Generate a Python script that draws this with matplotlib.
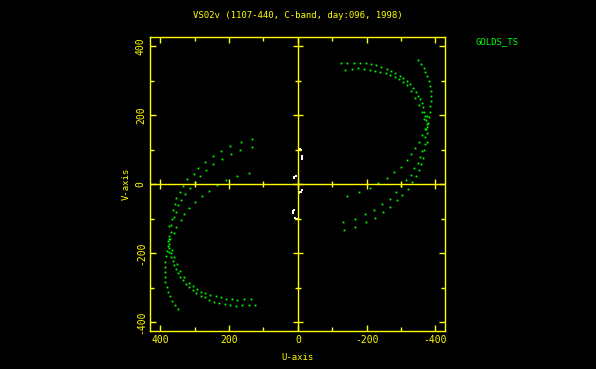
import matplotlib
matplotlib.use("Agg")
import matplotlib.pyplot as plt
import numpy as np

title = "VS02v (1107-440, C-band, day:096, 1998)"
legend_label = "GOLDS_TS"

# uv tracks (one half; the other half is the conjugate -u, -v)
track_a_u = [-124, -143, -163, -180, -197, -213, -228, -243, -258, -271, -283, -296, -306, -316,
             -326, -335, -343, -348, -354, -360, -364, -368, -370, -374, -375, -374, -369, -361,
             -355, -348, -339, -329, -314, -300, -285, -267, -246, -221, -194, -167, -132]
track_a_v = [350, 350, 351, 352, 350, 347, 344, 340, 334, 328, 323, 314, 307, 298,
             289, 278, 268, 256, 246, 234, 222, 210, 198, 186, 174, 160, 138, 96,
             80, 61, 46, 27, 12, -5, -24, -42, -57, -74, -86, -100, -109]

track_b_u = [-350, -358, -366, -371, -377, -381, -385, -386, -386, -386, -385, -383, -381, -379,
             -377, -375, -376, -370, -366, -364, -358, -353, -344, -333, -321, -303, -289, -269,
             -248, -223, -197, -166, -134]
track_b_v = [360, 349, 337, 325, 312, 298, 284, 269, 255, 240, 225, 209, 194, 178,
             165, 149, 122, 117, 100, 75, 57, 41, 24, 6, -14, -30, -47, -65,
             -81, -97, -110, -123, -132]

track_c_u = [-137, -157, -176, -192, -209, -225, -239, -255, -269, -283, -294, -306, -316, -330,
             -342, -352, -360, -367, -375, -371, -361, -353, -341, -330, -316, -299, -280, -258,
             -234, -209, -178, -143]
track_c_v = [331, 333, 335, 333, 331, 327, 325, 321, 315, 311, 304, 296, 287, 270,
             250, 230, 210, 190, 196, 160, 141, 123, 104, 87, 70, 51, 35, 19,
             3, -12, -24, -33]

short_u = [-2, -6, -9, -13, -13, -12, 12, 10, 6, 4]
short_v = [101, 101, 98, 82, 77, 74, 18, 22, 24, 25]

x_major = [400, 200, 0, -200, -400]
x_minor = [300, 100, -100, -300]
y_major = [-400, -200, 0, 200, 400]
y_minor = [-300, -100, 100, 300]

yellow = "#ffff00"
green = "#00ff00"

fig = plt.figure(figsize=(5.96, 3.69), dpi=100, facecolor="black")
ax = fig.add_axes([0.2517, 0.103, 0.495, 0.7967], facecolor="black")

for u, v in [(track_a_u, track_a_v), (track_b_u, track_b_v), (track_c_u, track_c_v)]:
    u = np.array(u)
    v = np.array(v)
    ax.plot(u, v, "s", color=green, markersize=1.3, markeredgewidth=0)
    ax.plot(-u, -v, "s", color=green, markersize=1.3, markeredgewidth=0)

su = np.array(short_u)
sv = np.array(short_v)
ax.plot(su, sv, "s", color="white", markersize=1.5, markeredgewidth=0)
ax.plot(-su, -sv, "s", color="white", markersize=1.5, markeredgewidth=0)

# zero lines with crossing ticks
ax.axhline(0, color=yellow, lw=1.0)
ax.axvline(0, color=yellow, lw=1.0)
ax.plot(x_major, np.zeros(len(x_major)), "|", color=yellow, markersize=7.5, mew=1.0)
ax.plot(x_minor, np.zeros(len(x_minor)), "|", color=yellow, markersize=4.5, mew=1.0)
ax.plot(np.zeros(len(y_major)), y_major, "_", color=yellow, markersize=7.5, mew=1.0)
ax.plot(np.zeros(len(y_minor)), y_minor, "_", color=yellow, markersize=4.5, mew=1.0)

ax.set_xlim(430, -428)
ax.set_ylim(-425, 426)

for s in ax.spines.values():
    s.set_color(yellow)
    s.set_linewidth(1.0)

ax.set_xticks(x_major)
ax.set_xticks(x_minor, minor=True)
ax.set_yticks(y_major)
ax.set_yticks(y_minor, minor=True)
ax.set_xticklabels([str(t) for t in x_major])
ax.set_yticklabels([str(t) for t in y_major])

ax.tick_params(which="both", direction="in", colors=yellow, top=True, right=True, width=1.0)
ax.tick_params(which="major", length=4.5)
ax.tick_params(which="minor", length=3)
ax.tick_params(axis="x", labelsize=7, pad=3)
ax.tick_params(axis="y", labelsize=7, pad=3, labelrotation=90)
for lab in ax.get_xticklabels() + ax.get_yticklabels():
    lab.set_family("DejaVu Sans Mono")
for lab in ax.get_yticklabels():
    lab.set_va("center")

ax.set_xlabel("U-axis", color=yellow, fontsize=6.5, family="DejaVu Sans Mono", labelpad=6)
ax.set_ylabel("V-axis", color=yellow, fontsize=6.5, family="DejaVu Sans Mono", labelpad=4)

fig.text(0.5, 1 - 16 / 369, title, color=yellow, fontsize=6.5, family="DejaVu Sans Mono",
         ha="center", va="center")
fig.text(475 / 596, 1 - 42 / 369, legend_label, color=green, fontsize=6.5,
         family="DejaVu Sans Mono", ha="left", va="center")

fig.savefig("out.png", dpi=100, facecolor="black")
